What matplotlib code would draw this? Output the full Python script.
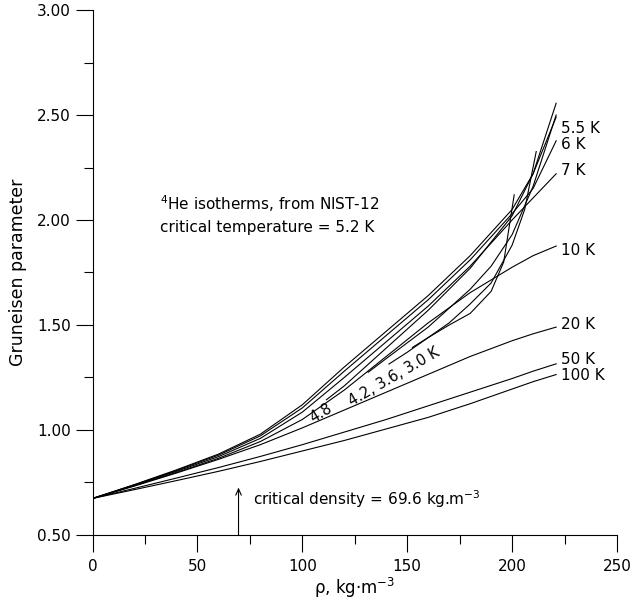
import matplotlib
matplotlib.use('Agg')
from matplotlib import pyplot as plt
from matplotlib.ticker import MultipleLocator, FormatStrFormatter

plt.rcParams['font.family'] = ['DejaVu Sans']
plt.rcParams['mathtext.fontset'] = 'dejavusans'
plt.rcParams['mathtext.default'] = 'regular'

# density grid (kg/m3) for the supercritical isotherms
rho = [0, 20, 40, 60, 80, 100, 120, 140, 160, 180, 200, 210, 221]
g_5_5K = [0.674, 0.740, 0.810, 0.885, 0.980, 1.120, 1.300, 1.470, 1.640, 1.830, 2.050, 2.220, 2.490]
g_6K = [0.674, 0.739, 0.807, 0.880, 0.972, 1.105, 1.280, 1.450, 1.620, 1.810, 2.030, 2.150, 2.377]
g_7K = [0.674, 0.737, 0.803, 0.873, 0.960, 1.085, 1.250, 1.420, 1.590, 1.780, 2.000, 2.105, 2.220]
g_10K = [0.674, 0.735, 0.798, 0.865, 0.945, 1.050, 1.190, 1.350, 1.510, 1.654, 1.775, 1.830, 1.876]
g_20K = [0.674, 0.733, 0.795, 0.860, 0.930, 1.010, 1.095, 1.180, 1.265, 1.350, 1.425, 1.458, 1.490]
g_50K = [0.674, 0.722, 0.771, 0.821, 0.874, 0.930, 0.990, 1.050, 1.115, 1.180, 1.245, 1.280, 1.315]
g_100K = [0.674, 0.716, 0.759, 0.803, 0.850, 0.900, 0.950, 1.005, 1.060, 1.125, 1.195, 1.230, 1.264]

# liquid branches of the subcritical isotherms
rho_4_8K = [111.5, 120, 140, 160, 180, 200, 210, 221]
g_4_8K = [1.144, 1.210, 1.390, 1.570, 1.770, 2.020, 2.220, 2.556]
rho_4_2K = [131.4, 140, 160, 180, 190, 200, 210, 221]
g_4_2K = [1.275, 1.340, 1.490, 1.670, 1.780, 1.930, 2.160, 2.500]
rho_3_6K = [141.3, 150, 160, 170, 180, 190, 200, 206, 211.5]
g_3_6K = [1.314, 1.370, 1.440, 1.510, 1.600, 1.700, 1.880, 2.050, 2.326]
rho_3_0K = [152.5, 160, 170, 180, 190, 196, 201]
g_3_0K = [1.393, 1.440, 1.500, 1.555, 1.660, 1.800, 2.120]

end_labels = ['5.5 K', '6 K', '7 K', '10 K', '20 K', '50 K', '100 K']
end_label_y = [2.434, 2.358, 2.235, 1.855, 1.500, 1.338, 1.259]

rho_crit = 69.6

fs = 11

fig = plt.figure(figsize=(6.31, 6.03), dpi=100)
ax = fig.add_axes([0.1466, 0.1128, 0.8312, 0.8706])

lw = 0.8
for g in [g_5_5K, g_6K, g_7K, g_10K, g_20K, g_50K, g_100K]:
    ax.plot(rho, g, color='black', lw=lw)
for r, g in [(rho_4_8K, g_4_8K), (rho_4_2K, g_4_2K), (rho_3_6K, g_3_6K), (rho_3_0K, g_3_0K)]:
    ax.plot(r, g, color='black', lw=lw)

for lab, yy in zip(end_labels, end_label_y):
    ax.text(223.3, yy, lab, fontsize=fs, va='center', ha='left')

ax.text(109.0, 1.078, '4.8', fontsize=10.5, rotation=31, ha='center', va='center')
ax.text(143.6, 1.252, '4.2, 3.6, 3.0 K', fontsize=10.5, rotation=30, ha='center', va='center')

ax.text(32, 2.076, r'$^{4}$He isotherms, from NIST-12', fontsize=fs, va='center', ha='left')
ax.text(32, 1.966, 'critical temperature = 5.2 K', fontsize=fs, va='center', ha='left')

ax.annotate('', xy=(rho_crit, 0.726), xytext=(rho_crit, 0.5),
            arrowprops=dict(arrowstyle='->,head_length=0.45,head_width=0.2', color='black',
                            lw=0.8, shrinkA=0, shrinkB=0))
ax.text(76.7, 0.671, r'critical density = 69.6 kg.m$^{-3}$', fontsize=fs, va='center', ha='left')

ax.set_xlim(0, 250)
ax.set_ylim(0.5, 3.0)
ax.spines['top'].set_visible(False)
ax.spines['right'].set_visible(False)
for s in ['left', 'bottom']:
    ax.spines[s].set_linewidth(0.8)

ax.xaxis.set_major_locator(MultipleLocator(50))
ax.xaxis.set_minor_locator(MultipleLocator(25))
ax.yaxis.set_major_locator(MultipleLocator(0.5))
ax.yaxis.set_minor_locator(MultipleLocator(0.25))
ax.yaxis.set_major_formatter(FormatStrFormatter('%.2f'))
ax.tick_params(which='major', direction='out', length=12, width=0.8, labelsize=fs, pad=3.5)
ax.tick_params(which='minor', direction='out', length=6.5, width=0.8)
ax.tick_params(axis='x', which='major', pad=5)

ax.set_xlabel(r'ρ, kg·m$^{-3}$', fontsize=12, labelpad=2)
ax.set_ylabel('Gruneisen parameter', fontsize=12.5, labelpad=7)

fig.savefig('out.png', dpi=100)
